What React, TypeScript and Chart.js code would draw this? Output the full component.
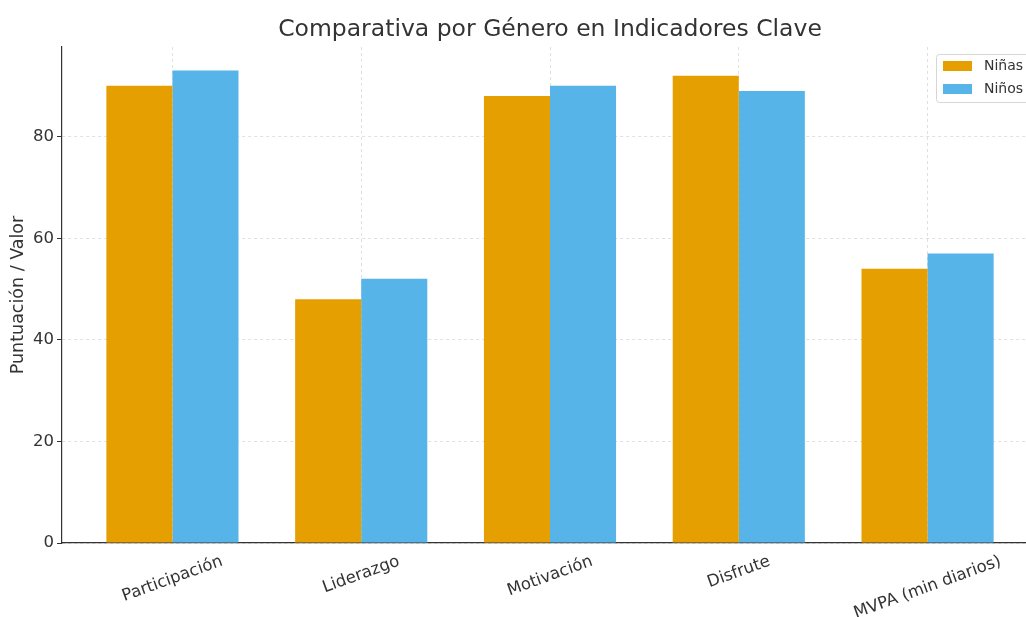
import React, { useEffect, useRef } from 'react';
import { Chart, registerables } from 'chart.js';

Chart.register(...registerables);

const categories = ['Participación', 'Liderazgo', 'Motivación', 'Disfrute', 'MVPA (min diarios)'];
const ninas = [90, 48, 88, 92, 54];
const ninos = [93, 52, 90, 89, 57];
const yTicks = [0, 20, 40, 60, 80];
const seriesLabels = ['Niñas', 'Niños'];
const seriesColors = ['#E69F00', '#56B4E9'];
const titleText = 'Comparativa por Género en Indicadores Clave';
const yTitleText = 'Puntuación / Valor';

const FONT = "'DejaVu Sans', sans-serif";
const TEXT = '#333333';

const decorPlugin = {
  id: 'decor',
  afterDraw(chart: any) {
    const { ctx, chartArea } = chart;
    const xScale = chart.scales.x;
    ctx.save();
    // Title
    ctx.fillStyle = TEXT;
    ctx.font = `23.5px ${FONT}`;
    ctx.textAlign = 'center';
    ctx.textBaseline = 'middle';
    ctx.fillText(titleText, (chartArea.left + chartArea.right) / 2, 30);
    // Y title
    ctx.save();
    ctx.translate(18, (chartArea.top + chartArea.bottom) / 2);
    ctx.rotate(-Math.PI / 2);
    ctx.font = `17.5px ${FONT}`;
    ctx.fillText(yTitleText, 0, 0);
    ctx.restore();
    // X labels rotated 20deg, centered on tick
    ctx.font = `16.5px ${FONT}`;
    const ang = (20 * Math.PI) / 180;
    categories.forEach((lab, i) => {
      const w = ctx.measureText(lab).width;
      const h = 19;
      const bh = w * Math.sin(ang) + h * Math.cos(ang);
      const cx = xScale.getPixelForValue(i);
      const cy = chartArea.bottom + 9 + bh / 2;
      ctx.save();
      ctx.translate(cx, cy);
      ctx.rotate(-ang);
      ctx.textAlign = 'center';
      ctx.textBaseline = 'middle';
      ctx.fillText(lab, 0, 0);
      ctx.restore();
    });
    // Legend
    const lx = 936.5, ly = 54.5, lw = 130, lh = 48, r = 3;
    ctx.beginPath();
    ctx.moveTo(lx + r, ly);
    ctx.lineTo(lx + lw - r, ly);
    ctx.arcTo(lx + lw, ly, lx + lw, ly + r, r);
    ctx.lineTo(lx + lw, ly + lh - r);
    ctx.arcTo(lx + lw, ly + lh, lx + lw - r, ly + lh, r);
    ctx.lineTo(lx + r, ly + lh);
    ctx.arcTo(lx, ly + lh, lx, ly + lh - r, r);
    ctx.lineTo(lx, ly + r);
    ctx.arcTo(lx, ly, lx + r, ly, r);
    ctx.closePath();
    ctx.fillStyle = 'rgba(255,255,255,0.85)';
    ctx.fill();
    ctx.strokeStyle = '#d6d6d6';
    ctx.lineWidth = 1;
    ctx.stroke();
    ctx.font = `14px ${FONT}`;
    ctx.textAlign = 'left';
    ctx.textBaseline = 'middle';
    chart.data.datasets.forEach((ds: any, i: number) => {
      const y = 61 + i * 23;
      ctx.fillStyle = ds.backgroundColor;
      ctx.fillRect(943, y, 29, 10);
      ctx.fillStyle = TEXT;
      ctx.fillText(ds.label, 984, y + 5.5);
    });
    ctx.restore();
  },
};

export default function App() {
  const ref = useRef<HTMLCanvasElement | null>(null);
  useEffect(() => {
    document.body.style.margin = '0';
    document.body.style.overflow = 'hidden';
    Chart.defaults.font.family = FONT;
    const canvas = ref.current!;
    const chart = new Chart(canvas, {
      type: 'bar',
      data: {
        datasets: [ninas, ninos].map((vals, k) => ({
          label: seriesLabels[k],
          data: vals.map((v, i) => ({ x: i, y: v })),
          backgroundColor: seriesColors[k],
          borderWidth: 0,
          categoryPercentage: 0.7,
          barPercentage: 1.0,
        })),
      },
      options: {
        responsive: false,
        animation: false,
        devicePixelRatio: 1,
        layout: { padding: { top: 47, right: 12, bottom: 0, left: 0 } },
        plugins: { legend: { display: false }, title: { display: false }, tooltip: { enabled: false } },
        scales: {
          x: {
            type: 'linear',
            offset: false,
            min: -0.585,
            max: 4.585,
            afterBuildTicks: (scale: any) => {
              scale.ticks = categories.map((_, i) => ({ value: i }));
            },
            afterFit: (scale: any) => {
              scale.height = 74;
            },
            ticks: { display: false },
            grid: { offset: false, color: '#d9d9d9', lineWidth: 0.8, drawTicks: false },
            border: { display: true, color: '#333333', width: 1.2, dash: [3, 3] },
          },
          y: {
            type: 'linear',
            min: 0,
            max: 97.65,
            afterBuildTicks: (scale: any) => {
              scale.ticks = yTicks.map((v) => ({ value: v }));
            },
            afterFit: (scale: any) => {
              scale.width = 62;
            },
            ticks: { color: TEXT, font: { size: 16.5, family: FONT }, padding: 3 },
            grid: {
              color: '#d9d9d9',
              lineWidth: 0.8,
              drawTicks: true,
              tickLength: 5,
              tickColor: '#333333',
              tickWidth: 1,
              tickBorderDash: [],
            },
            border: { display: true, color: '#333333', width: 1.2, dash: [3, 3] },
          },
        },
      } as any,
      plugins: [decorPlugin],
    });
    return () => chart.destroy();
  }, []);
  return (
    <div style={{ position: 'absolute', left: 0, top: 0, width: 1026, height: 617, overflow: 'hidden', background: '#fff' }}>
      <canvas ref={ref} width={1050} height={617} style={{ width: 1050, height: 617, display: 'block' }} />
    </div>
  );
}
